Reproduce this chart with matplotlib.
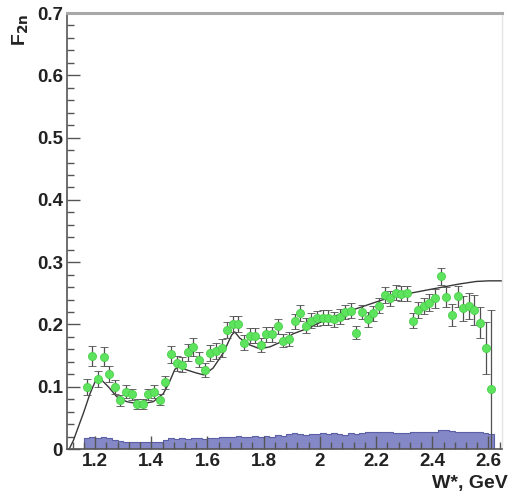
import numpy as np
import matplotlib
matplotlib.use("Agg")
import matplotlib.pyplot as plt
from matplotlib.ticker import MultipleLocator, FuncFormatter

# Measured structure function F2n versus W* (GeV)
w_data = [1.17, 1.19, 1.21, 1.23, 1.25, 1.27, 1.29, 1.31, 1.33, 1.35,
          1.37, 1.39, 1.41, 1.43, 1.45, 1.47, 1.49, 1.51, 1.53, 1.55,
          1.57, 1.59, 1.61, 1.63, 1.65, 1.67, 1.69, 1.71, 1.73, 1.75,
          1.77, 1.79, 1.81, 1.83, 1.85, 1.87, 1.89, 1.91, 1.93, 1.95,
          1.97, 1.99, 2.01, 2.03, 2.05, 2.07, 2.09, 2.11, 2.13, 2.15,
          2.17, 2.19, 2.21, 2.23, 2.25, 2.27, 2.29, 2.31, 2.33, 2.35,
          2.37, 2.39, 2.41, 2.43, 2.45, 2.47, 2.49, 2.51, 2.53, 2.55,
          2.57, 2.59, 2.61]
f2n = [0.100, 0.149, 0.113, 0.148, 0.121, 0.100, 0.078, 0.092, 0.088, 0.073,
       0.073, 0.088, 0.092, 0.079, 0.107, 0.152, 0.138, 0.135, 0.155, 0.164,
       0.143, 0.127, 0.154, 0.158, 0.162, 0.191, 0.201, 0.201, 0.171, 0.182,
       0.182, 0.167, 0.184, 0.184, 0.197, 0.174, 0.177, 0.205, 0.219, 0.198,
       0.206, 0.210, 0.211, 0.211, 0.208, 0.212, 0.220, 0.222, 0.187, 0.220,
       0.208, 0.218, 0.230, 0.247, 0.242, 0.251, 0.249, 0.250, 0.206, 0.223,
       0.230, 0.235, 0.242, 0.277, 0.244, 0.215, 0.245, 0.226, 0.230, 0.223,
       0.203, 0.162, 0.097]
f2n_err = [0.013, 0.016, 0.013, 0.015, 0.013, 0.011, 0.009, 0.010, 0.009, 0.008,
           0.008, 0.009, 0.010, 0.009, 0.011, 0.014, 0.012, 0.012, 0.013, 0.014,
           0.012, 0.011, 0.013, 0.013, 0.014, 0.013, 0.013, 0.013, 0.012, 0.012,
           0.012, 0.011, 0.012, 0.012, 0.012, 0.011, 0.011, 0.012, 0.013, 0.012,
           0.012, 0.012, 0.012, 0.012, 0.012, 0.012, 0.012, 0.012, 0.011, 0.012,
           0.012, 0.012, 0.012, 0.013, 0.012, 0.012, 0.012, 0.012, 0.012, 0.013,
           0.013, 0.014, 0.015, 0.014, 0.016, 0.018, 0.017, 0.020, 0.021, 0.024,
           0.025, 0.042, 0.126]

# Systematic uncertainty band (per bin)
syst = [0.017, 0.019, 0.018, 0.020, 0.018, 0.015, 0.013, 0.012, 0.012, 0.011,
        0.012, 0.011, 0.012, 0.011, 0.015, 0.017, 0.016, 0.017, 0.016, 0.017,
        0.017, 0.016, 0.018, 0.017, 0.019, 0.020, 0.020, 0.021, 0.020, 0.020,
        0.021, 0.020, 0.021, 0.020, 0.022, 0.021, 0.024, 0.025, 0.024, 0.023,
        0.024, 0.024, 0.025, 0.024, 0.025, 0.024, 0.023, 0.025, 0.024, 0.026,
        0.027, 0.027, 0.028, 0.028, 0.027, 0.026, 0.025, 0.026, 0.027, 0.028,
        0.027, 0.028, 0.028, 0.030, 0.031, 0.029, 0.028, 0.028, 0.027, 0.028,
        0.027, 0.026, 0.024]

# Model curve
w_model = [1.108, 1.123, 1.140, 1.158, 1.182, 1.200, 1.210, 1.225, 1.247, 1.277,
           1.313, 1.360, 1.407, 1.443, 1.465, 1.484, 1.496, 1.510, 1.526, 1.561,
           1.587, 1.620, 1.656, 1.686, 1.697, 1.715, 1.751, 1.786, 1.822, 1.857,
           1.905, 1.958, 2.023, 2.080, 2.141, 2.200, 2.260, 2.320, 2.378, 2.437,
           2.497, 2.556, 2.600, 2.650]
f_model = [0.000, 0.014, 0.035, 0.057, 0.089, 0.108, 0.113, 0.110, 0.100, 0.084,
           0.076, 0.072, 0.076, 0.089, 0.108, 0.128, 0.132, 0.130, 0.127, 0.122,
           0.119, 0.130, 0.154, 0.183, 0.188, 0.178, 0.167, 0.161, 0.164, 0.171,
           0.185, 0.194, 0.208, 0.218, 0.227, 0.236, 0.245, 0.250, 0.255, 0.260,
           0.265, 0.269, 0.270, 0.270]

x_ticks = [1.2, 1.4, 1.6, 1.8, 2.0, 2.2, 2.4, 2.6]
y_ticks = [0.0, 0.1, 0.2, 0.3, 0.4, 0.5, 0.6, 0.7]

plt.rcParams['font.family'] = ['Liberation Sans', 'DejaVu Sans']

fig = plt.figure(figsize=(5.09, 4.95), dpi=100)
ax = fig.add_axes([0.1316, 0.0929, 0.8546, 0.8808])

# systematic band as a filled histogram
w_arr = np.asarray(w_data)
edges = np.append(w_arr - 0.01, w_arr[-1] + 0.01)
ax.stairs(syst, edges, fill=True, facecolor='#8488c6', edgecolor='none', zorder=1)
ax.stairs(syst, edges, fill=False, edgecolor='#5b5fa6', linewidth=0.8, zorder=1.5)

# model curve
ax.plot(w_model, f_model, color='#383838', linewidth=1.0, zorder=2)

# data points
ax.errorbar(w_data, f2n, yerr=f2n_err, fmt='o', color='#5ee35e',
            markersize=5.8, markeredgecolor='#48cf48', markeredgewidth=0.6,
            ecolor='#505050', elinewidth=0.9, capsize=2.6, capthick=0.9,
            zorder=3)

ax.set_xlim(1.1, 2.648)
ax.set_ylim(0.0, 0.7)

ax.set_xticks(x_ticks)
ax.set_yticks(y_ticks)
ax.xaxis.set_minor_locator(MultipleLocator(0.04))
ax.yaxis.set_minor_locator(MultipleLocator(0.02))
ax.xaxis.set_major_formatter(FuncFormatter(lambda v, p: f"{v:g}"))
ax.yaxis.set_major_formatter(FuncFormatter(lambda v, p: "0" if abs(v) < 1e-9 else f"{v:.1f}"))

ax.tick_params(which='major', direction='in', length=9.4, width=1.0,
               color='#555555', labelsize=13.5, labelcolor='#222222')
ax.tick_params(which='minor', direction='in', length=4.7, width=1.0,
               color='#555555')
ax.tick_params(axis='x', pad=3)
ax.tick_params(axis='y', pad=3)
ax.tick_params(top=False, right=False, which='both')
for lab in ax.get_xticklabels() + ax.get_yticklabels():
    lab.set_fontweight('bold')

for side in ('left', 'bottom'):
    ax.spines[side].set_color('#555555')
    ax.spines[side].set_linewidth(1.2)
ax.spines['top'].set_color('#a8a8a8')
ax.spines['top'].set_linewidth(2.2)
ax.spines['right'].set_color('#e4e4e4')
ax.spines['right'].set_linewidth(1.0)

fig.text(0.040, 0.972, r"F$_{\mathbf{2n}}$", rotation=90, ha='center', va='top',
         fontsize=14, fontweight='bold', color='#222222')
fig.text(0.998, 0.024, "W*, GeV", ha='right', va='center',
         fontsize=14, fontweight='bold', color='#222222')

fig.savefig("out.png", dpi=100)
